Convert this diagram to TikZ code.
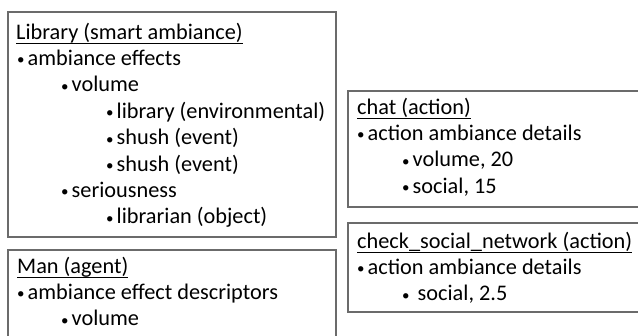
\documentclass[tikz,border=0pt]{standalone}
\usepackage{fontspec}
\setmainfont{Carlito}
\begin{document}
\begin{tikzpicture}[x=1bp,y=-1bp,
  box/.style={draw=black!58,line width=1.1bp,fill=white},
  txt/.style={anchor=base west,inner sep=0pt,font=\fontsize{22.3bp}{26bp}\selectfont,text=black}]
\useasboundingbox (0,0) rectangle (638,335);
\newcommand{\itm}[1]{\makebox[10.5bp][l]{\raisebox{0.5bp}{\fontsize{15bp}{15bp}\selectfont •}}#1}
\newcommand{\ul}[1]{\setbox0\hbox{#1}\rlap{\rule[-5.2bp]{\wd0}{1.2bp}}\box0}
% boxes
\draw[box] (8,12) rectangle (336,237) coordinate (b1);
\draw[box] (8,250) rectangle (336,345) coordinate (b2);
\draw[box] (348,91) rectangle (645,207) coordinate (b3);
\draw[box] (348,223) rectangle (645,312) coordinate (b4);
% Library
\node[txt] (l0) at (16,39) {\ul{Library (smart ambiance)}};
\node[txt] (l1) at (17,65.4) {\itm{ambiance effects}};
\node[txt] (l2) at (61,91.8) {\itm{volume}};
\node[txt] (l3) at (106,118.2) {\itm{library (environmental)}};
\node[txt] (l4) at (106,144.6) {\itm{shush (event)}};
\node[txt] (l5) at (106,171) {\itm{shush (event)}};
\node[txt] (l6) at (61,197.4) {\itm{seriousness}};
\node[txt] (l7) at (106,223.8) {\itm{librarian (object)}};
% Man
\node[txt] (m0) at (17,273) {\ul{Man (agent)}};
\node[txt] (m1) at (17,299.4) {\itm{ambiance effect descriptors}};
\node[txt] (m2) at (61,325.8) {\itm{volume}};
% chat
\node[txt] (c0) at (357,114) {\ul{chat (action)}};
\node[txt] (c1) at (357,140.4) {\itm{action ambiance details}};
\node[txt] (c2) at (402,166.8) {\itm{volume, 20}};
\node[txt] (c3) at (402,193.2) {\itm{social, 15}};
% check
\node[txt] (k0) at (357,248) {\ul{check\_social\_network (action)}};
\node[txt] (k1) at (357,274.4) {\itm{action ambiance details}};
\node[txt] (k2) at (402,300.8) {\itm{\hspace{5bp}social, 2.5}};
\end{tikzpicture}
\end{document}
